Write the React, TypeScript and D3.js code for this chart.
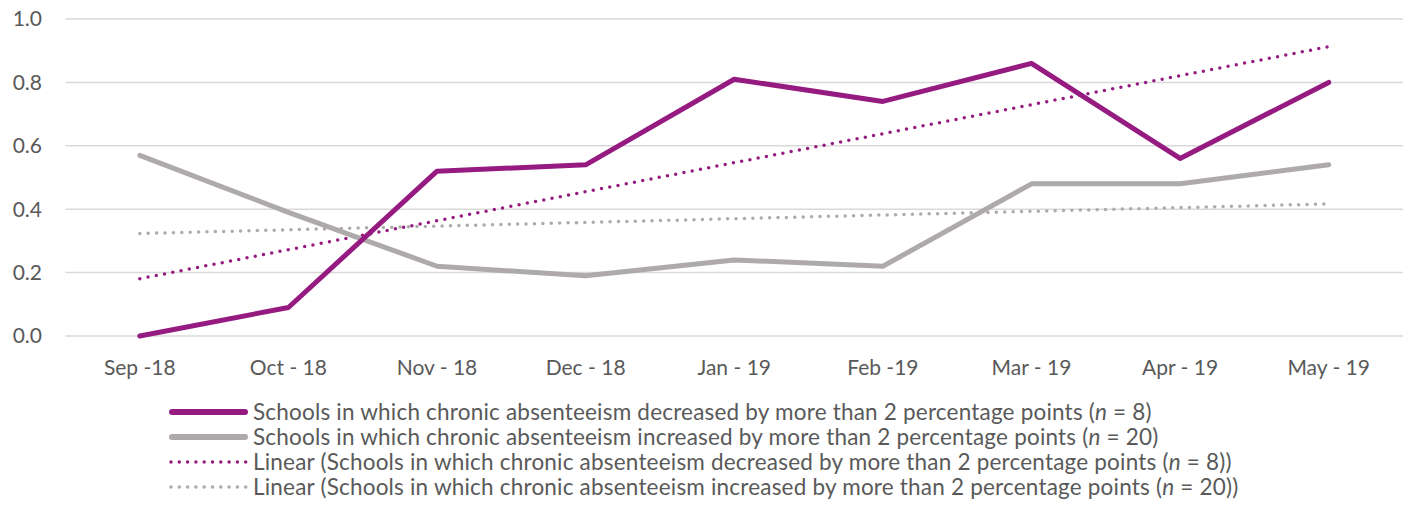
import React from "react";
import * as d3 from "d3";

const categories = ["Sep -18", "Oct - 18", "Nov - 18", "Dec - 18", "Jan - 19", "Feb -19", "Mar - 19", "Apr - 19", "May - 19"];
const decreased = [0, 0.09, 0.52, 0.54, 0.81, 0.74, 0.86, 0.56, 0.8];
const increased = [0.57, 0.39, 0.22, 0.19, 0.24, 0.22, 0.48, 0.48, 0.54];
const yTicks = [0, 0.2, 0.4, 0.6, 0.8, 1.0];

const PURPLE = "#951B81";
const GRAY = "#AEA9AA";
const TEXT = "#595959";
const FONT = "Lato, 'Open Sans', sans-serif";

function linearFit(vals: number[]) {
  const xs = vals.map((_, i) => i);
  const mx = d3.mean(xs)!;
  const my = d3.mean(vals)!;
  let num = 0, den = 0;
  xs.forEach((x, i) => { num += (x - mx) * (vals[i] - my); den += (x - mx) ** 2; });
  const slope = num / den;
  return xs.map((x) => my + slope * (x - mx));
}

export default function App() {
  const W = 1407, H = 508;
  const left = 65.5, right = 1403;
  const x = d3.scaleBand<string>().domain(categories).range([left, right]);
  const cx = (c: string) => x(c)! + x.bandwidth() / 2;
  const y = d3.scaleLinear().domain([0, 1]).range([336, 19]);
  const line = d3.line<number>().x((_, i) => cx(categories[i])).y((d) => y(d));

  const trendDec = linearFit(decreased);
  const trendInc = linearFit(increased);

  const legend = [
    { label: "Schools in which chronic absenteeism decreased by more than 2 percentage points (", n: "8", close: ")", color: PURPLE, dotted: false },
    { label: "Schools in which chronic absenteeism increased by more than 2 percentage points (", n: "20", close: ")", color: GRAY, dotted: false },
    { label: "Linear (Schools in which chronic absenteeism decreased by more than 2 percentage points (", n: "8", close: "))", color: PURPLE, dotted: true },
    { label: "Linear (Schools in which chronic absenteeism increased by more than 2 percentage points (", n: "20", close: "))", color: GRAY, dotted: true },
  ];

  return (
    <svg width={W} height={H} style={{ position: "absolute", left: 0, top: 0, background: "#fff" }} fontFamily={FONT}>
      {yTicks.map((t) => (
        <g key={t}>
          <line x1={left} x2={right} y1={y(t)} y2={y(t)} stroke="#D9D9D9" strokeWidth={1.5} />
          <text x={42} y={y(t)} dy="0.35em" textAnchor="end" fontSize={21} fill={TEXT}>{t.toFixed(1)}</text>
        </g>
      ))}
      {categories.map((c) => (
        <text key={c} x={cx(c)} y={368} dy="0.35em" textAnchor="middle" fontSize={21} fill={TEXT}>{c}</text>
      ))}
      <path d={line(trendInc)!} fill="none" stroke={GRAY} strokeWidth={3.5} strokeLinecap="round" strokeDasharray="0 8.4" />
      <path d={line(trendDec)!} fill="none" stroke={PURPLE} strokeWidth={3.5} strokeLinecap="round" strokeDasharray="0 8.4" />
      <path d={line(increased)!} fill="none" stroke={GRAY} strokeWidth={5} strokeLinecap="round" strokeLinejoin="round" />
      <path d={line(decreased)!} fill="none" stroke={PURPLE} strokeWidth={5} strokeLinecap="round" strokeLinejoin="round" />
      {legend.map((l, i) => {
        const ly = 412 + i * 25;
        return (
          <g key={i}>
            {l.dotted ? (
              <line x1={171} x2={246} y1={ly} y2={ly} stroke={l.color} strokeWidth={3.5} strokeLinecap="round" strokeDasharray="0 8.3" />
            ) : (
              <line x1={172} x2={245} y1={ly} y2={ly} stroke={l.color} strokeWidth={6} strokeLinecap="round" />
            )}
            <text x={253} y={ly} dy="0.35em" fontSize={22.5} letterSpacing={0.2} fill={TEXT}>
              {l.label}
              <tspan fontStyle="italic">n</tspan>
              {" = " + l.n + l.close}
            </text>
          </g>
        );
      })}
    </svg>
  );
}
